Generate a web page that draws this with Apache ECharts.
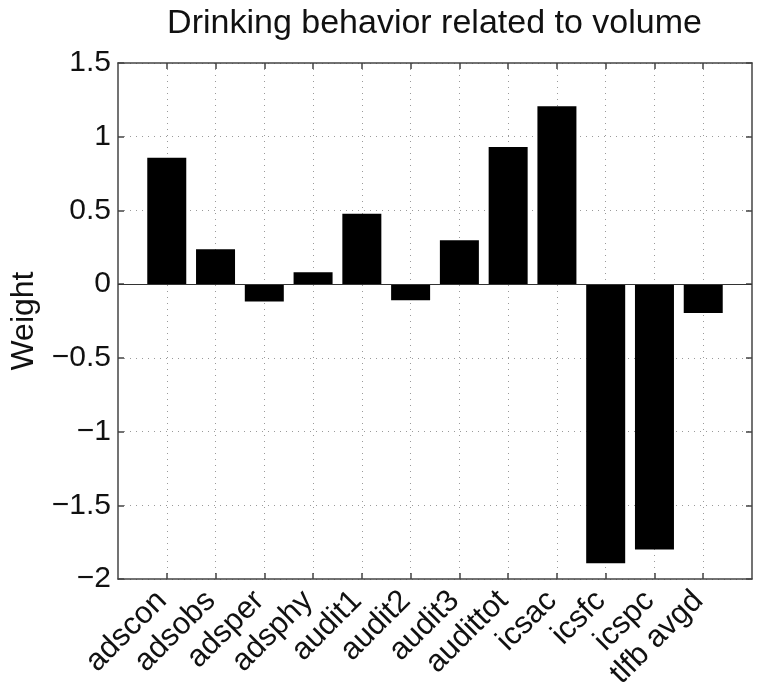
<!DOCTYPE html>
<html>
<head>
<meta charset="utf-8">
<script src="https://cdn.jsdelivr.net/npm/echarts@6/dist/echarts.min.js"></script>
<style>
html,body{margin:0;padding:0;background:#fff;}
#chart{width:762px;height:697px;}
</style>
</head>
<body>
<div id="chart"></div>
<script>
var titleText = 'Drinking behavior related to volume';
var yAxisName = 'Weight';
var categories = ['adscon','adsobs','adsper','adsphy','audit1','audit2','audit3','audittot','icsac','icsfc','icspc','tlfb avgd'];
var weights = [0.857, 0.236, -0.118, 0.080, 0.477, -0.109, 0.298, 0.930, 1.207, -1.893, -1.800, -0.195];
var yTicks = [-2, -1.5, -1, -0.5, 0, 0.5, 1, 1.5];

var positions = categories.map(function(c, i){ return i + 1; });
var barData = weights.map(function(v, i){ return [positions[i], v]; });

var font = '"Liberation Sans", Arial, Helvetica, sans-serif';
var frameColor = '#444';
var gridLine = {show:true, lineStyle:{color:'#9a9a9a', width:1, type:[1,5]}};

function fmtY(v){
  var s = String(Math.round(v*10)/10);
  return s.replace('-', '\u2212');
}

var gridLeft = 113, gridRight = 10;
var chartW = 762;

var chart = echarts.init(document.getElementById('chart'), null, {renderer:'canvas'});
chart.setOption({
  animation:false,
  backgroundColor:'#fff',
  title:{
    text:titleText, left:(gridLeft + (chartW - gridRight)) / 2 - 3, textAlign:'center', top:2,
    textStyle:{fontFamily:font, fontSize:34, fontWeight:'normal', color:'#111'}
  },
  grid:{left:gridLeft, right:gridRight, top:63, bottom:118, containLabel:false},
  xAxis:[{
    type:'value', min:0, max:categories.length+1, interval:1, position:'bottom',
    axisLine:{show:true, onZero:false, lineStyle:{color:frameColor, width:1.5}},
    axisTick:{show:true, inside:true, length:6, customValues:positions, lineStyle:{color:frameColor, width:1.5}},
    axisLabel:{show:true, customValues:positions, rotate:45, margin:12, padding:[0,7,0,0], fontFamily:font, fontSize:31, color:'#111',
      formatter:function(v){ var i = Math.round(v)-1; return (i>=0 && i<categories.length) ? categories[i] : ''; }},
    splitLine:gridLine
  },{
    type:'value', min:0, max:categories.length+1, interval:1, position:'top',
    axisLine:{show:true, onZero:false, lineStyle:{color:frameColor, width:1.5}},
    axisTick:{show:true, inside:true, length:6, customValues:positions, lineStyle:{color:frameColor, width:1.5}},
    axisLabel:{show:false}, splitLine:{show:false}
  }],
  yAxis:[{
    type:'value', min:-2, max:1.5, interval:0.5, position:'left',
    name:yAxisName, nameLocation:'middle', nameGap:78, nameRotate:90,
    nameTextStyle:{fontFamily:font, fontSize:32, color:'#111'},
    axisLine:{show:true, onZero:false, lineStyle:{color:frameColor, width:1.5}},
    axisTick:{show:true, inside:true, length:6, lineStyle:{color:frameColor, width:1.5}},
    axisLabel:{show:true, margin:7, fontFamily:font, fontSize:30, color:'#111', formatter:fmtY},
    splitLine:gridLine
  },{
    type:'value', min:-2, max:1.5, interval:0.5, position:'right',
    axisLine:{show:true, onZero:false, lineStyle:{color:frameColor, width:1.5}},
    axisTick:{show:true, inside:true, length:6, lineStyle:{color:frameColor, width:1.5}},
    axisLabel:{show:false}, splitLine:{show:false}
  }],
  series:[{
    type:'bar', xAxisIndex:0, yAxisIndex:0, data:barData, barWidth:39,
    itemStyle:{color:'#000', borderColor:'#000', borderWidth:0},
    markLine:{silent:true, symbol:['none','none'], label:{show:false},
      lineStyle:{color:'#333', width:1.2, type:'solid'}, data:[{yAxis:0}]}
  }]
});
</script>
</body>
</html>
